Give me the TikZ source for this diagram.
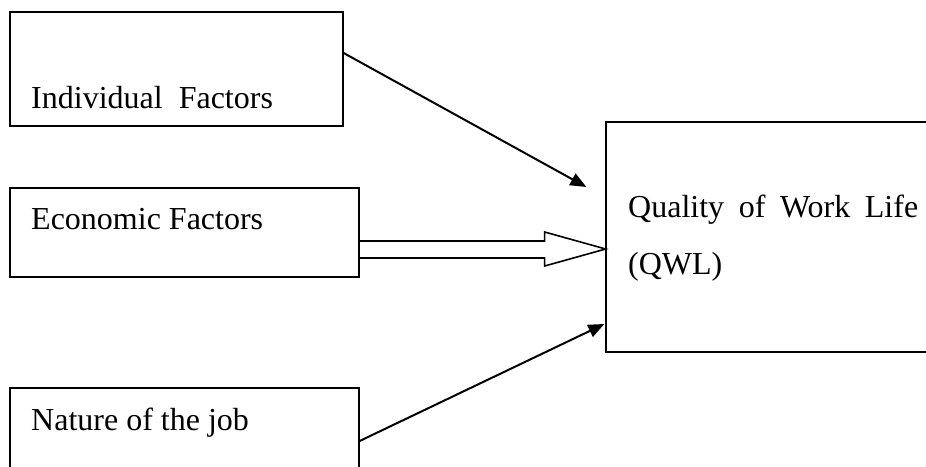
\documentclass[tikz,border=0pt]{standalone}
\usepackage{fontspec}
\setmainfont{Liberation Serif}
\usetikzlibrary{arrows.meta}

\begin{document}
\begin{tikzpicture}[x=1pt,y=-1pt,
		box/.style={draw,line width=1.3pt,inner sep=0pt},
		lbl/.style={anchor=base west,inner sep=0pt,font=\fontsize{32}{38}\selectfont},
		arr/.style={line width=2pt,-{Triangle[length=16pt,width=13pt]}},
		hollow/.style={line width=1.6pt}
	]
		\clip (0,0) rectangle (926,466);
		\node[box,minimum width=333pt,minimum height=114pt] (IF) at (176.5,69) {};
		\node[box,minimum width=349pt,minimum height=89pt] (EF) at (184.5,232.5) {};
		\node[box,minimum width=349pt,minimum height=106pt] (NJ) at (184.5,441) {};
		\node[box,minimum width=344pt,minimum height=230pt] (QWL) at (778,237) {};
		
		\node[lbl] (IFtext) at (31,108) {Individual~ Factors};
		\node[lbl] (EFtext) at (31,229) {Economic Factors};
		\node[lbl] (NJtext) at (31,430) {Nature of the job};
		\node[lbl] (QWLtext1) at (628,217) {\makebox[290pt][s]{Quality of Work Life}};
		\node[lbl] (QWLtext2) at (628,274) {(QWL)};
		
		\draw[arr] ([yshift=16pt]IF.east) -- ([xshift=-19pt,yshift=50pt]QWL.west);
		\draw[arr] (NJ.east) -- ([xshift=-1pt,yshift=-87pt]QWL.west);
		\draw[hollow] ([yshift=-8.5pt]EF.east) -- ++(185,0) -- ++(0,-9) -- ++(61,17)
			-- ++(-61,17) -- ++(0,-8) -- ++(-185,0);
	\end{tikzpicture}
\end{document}
